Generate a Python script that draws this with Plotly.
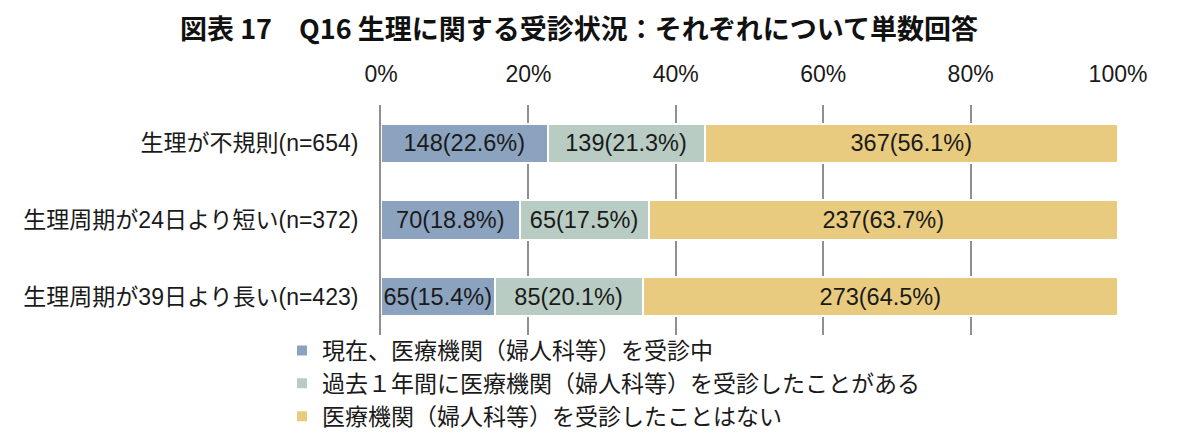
import plotly.graph_objects as go

categories = ["生理が不規則(n=654)", "生理周期が24日より短い(n=372)", "生理周期が39日より長い(n=423)"]
series_names = ["現在、医療機関（婦人科等）を受診中",
                "過去１年間に医療機関（婦人科等）を受診したことがある",
                "医療機関（婦人科等）を受診したことはない"]
counts = [[148, 70, 65], [139, 65, 85], [367, 237, 273]]
percents = [[22.6, 18.8, 15.4], [21.3, 17.5, 20.1], [56.1, 63.7, 64.5]]
colors = ["#8CA3C0", "#B8CCC3", "#E8CB7E"]
tick_vals = [0, 20, 40, 60, 80, 100]
tick_text = [f"{v}%" for v in tick_vals]

W, H = 1177, 442
L, R, T, B = 373, 67, 97, 115
PW, PH = W - L - R, H - T - B
FONT = "Liberation Sans, Arial, Noto Sans CJK JP, sans-serif"

fig = go.Figure()
for name, c, p, col in zip(series_names, counts, percents, colors):
    fig.add_trace(go.Bar(
        y=categories, x=p, orientation="h", name=name,
        marker=dict(color=col, line=dict(color="white", width=2)),
        text=[f"{n}({v}%)" for n, v in zip(c, p)],
        textposition="inside", insidetextanchor="middle", textangle=0,
        textfont=dict(size=23.5, color="#1a1a1a", family=FONT),
        showlegend=True, hoverinfo="skip",
    ))

fig.update_layout(
    width=W, height=H,
    margin=dict(l=L, r=R, t=T, b=B, autoexpand=False),
    barmode="stack", bargap=0.49,
    plot_bgcolor="white", paper_bgcolor="white",
    font=dict(family=FONT, size=23, color="#1a1a1a"),
    uniformtext=dict(minsize=23.5, mode="show"),
    title=dict(text="図表 17　Q16 生理に関する受診状況：それぞれについて単数回答",
               x=571 / W, xanchor="center", xref="container",
               y=1 - 22 / H, yanchor="middle", yref="container",
               font=dict(family="Noto Sans CJK JP", size=27, color="#111", weight="bold")),
    legend=dict(x=(274 - L) / PW, xanchor="left",
                y=(H - B - 321) / PH, yanchor="top",
                traceorder="normal",
                font=dict(size=23, family=FONT, color="#1a1a1a"),
                tracegroupgap=0, itemwidth=30, bgcolor="rgba(0,0,0,0)"),
    showlegend=True,
)
fig.update_xaxes(range=[0, 100], tickmode="array", tickvals=tick_vals, ticktext=tick_text,
                 side="top", showgrid=True, gridcolor="#8f8f8f", gridwidth=2, zeroline=False,
                 showline=False, ticks="outside", ticklen=13, tickcolor="rgba(0,0,0,0)",
                 automargin=False,
                 tickfont=dict(size=23, family=FONT, color="#1a1a1a"), fixedrange=True)
fig.update_yaxes(autorange="reversed", showline=True, linecolor="#8f8f8f", linewidth=2,
                 ticks="outside", ticklen=16, tickcolor="rgba(0,0,0,0)", showgrid=False,
                 automargin=False,
                 tickfont=dict(size=23, family=FONT, color="#1a1a1a"), fixedrange=True)

fig.write_html("out.html")
